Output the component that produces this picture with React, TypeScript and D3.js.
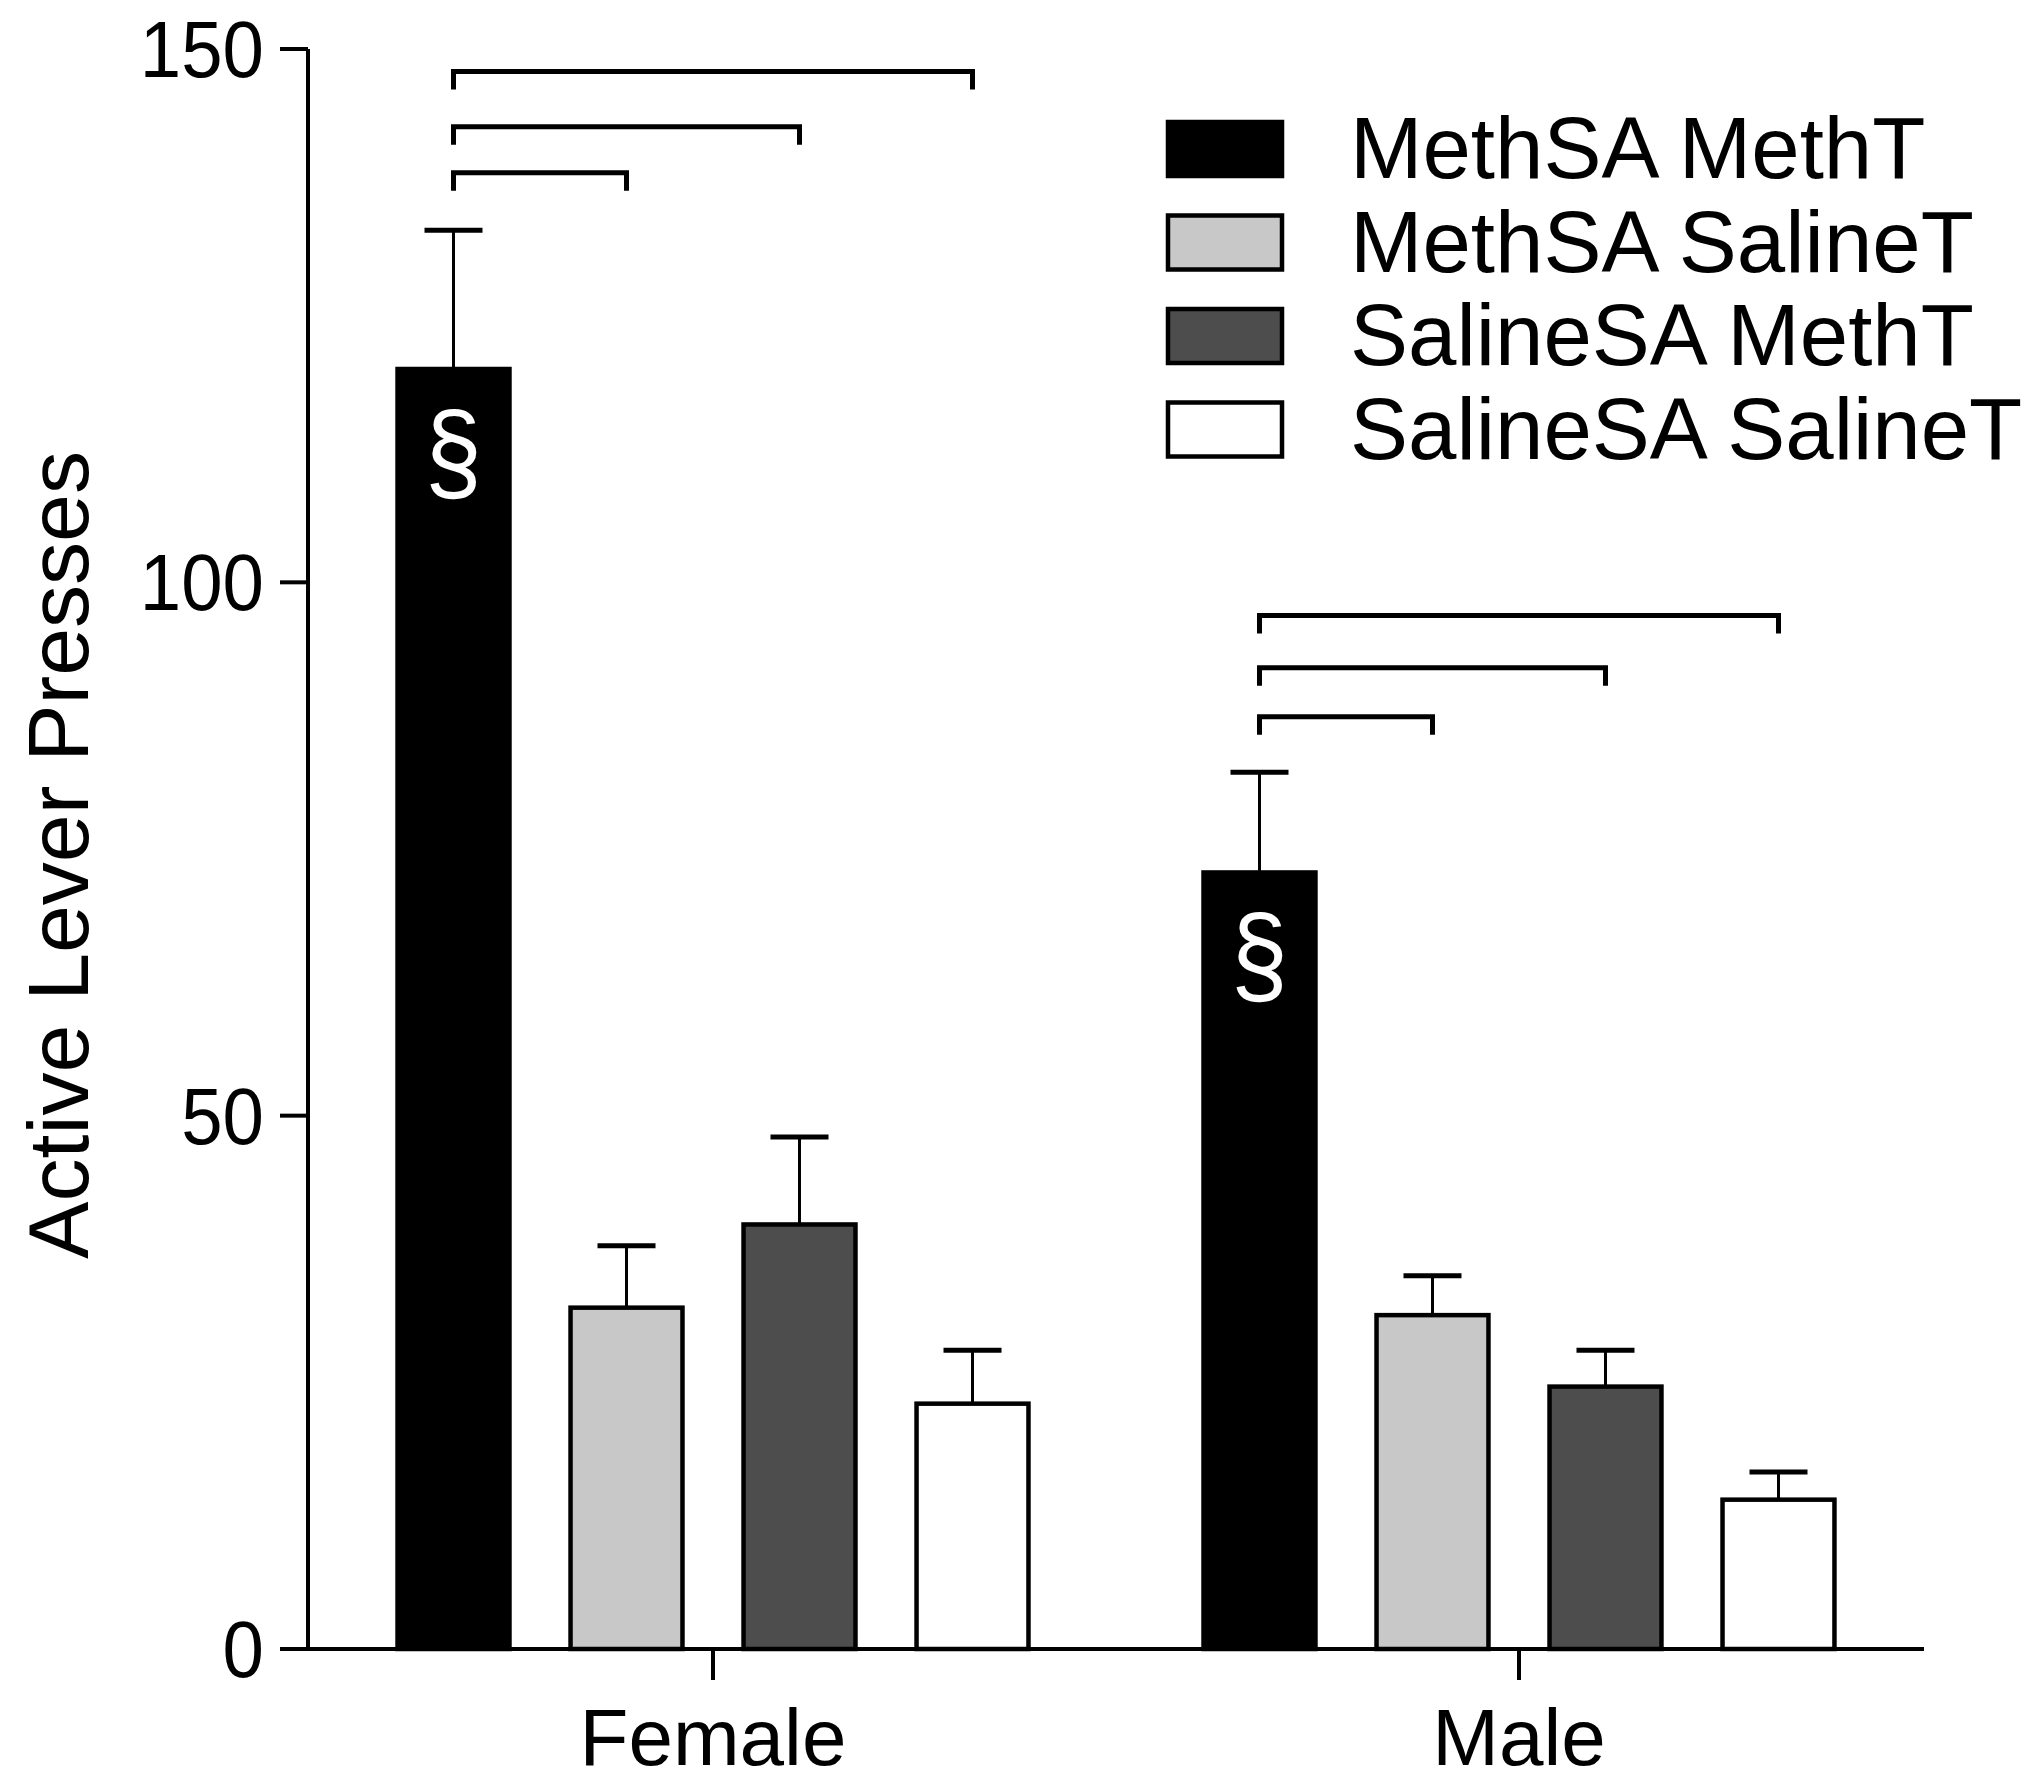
import React from "react";
import * as d3 from "d3";

const groups = ["Female", "Male"];
const series = ["MethSA MethT", "MethSA SalineT", "SalineSA MethT", "SalineSA SalineT"];
const femaleMeans = [120, 32, 39.8, 23];
const femaleSEM = [13, 5.8, 8.2, 5];
const maleMeans = [72.8, 31.3, 24.6, 14];
const maleSEM = [9.4, 3.7, 3.4, 2.6];
const yTicks = [0, 50, 100, 150];
// brackets: [from series index, to series index, height in data units]
const femaleBrackets: [number, number, number][] = [[0, 1, 138.4], [0, 2, 142.7], [0, 3, 147.9]];
const maleBrackets: [number, number, number][] = [[0, 1, 87.4], [0, 2, 92], [0, 3, 96.9]];
const sigMarks = ["§", "§"]; // on the MethSA MethT bar of each group
const fills = ["#000000", "#c8c8c8", "#4d4d4d", "#ffffff"];

const W = 2040;
const H = 1783;
const FONT = "'Liberation Sans', Arial, Helvetica, sans-serif";

export default function App() {
  const x0 = 308;
  const x1 = 1924;
  const yTop = 49;
  const yBase = 1649;

  const y = d3.scaleLinear().domain([0, 150]).range([yBase, yTop]);
  const gx = d3.scalePoint<string>().domain(groups).range([x0, x1]).padding(0.5025);
  const pi = 0.353;
  const inner = d3
    .scaleBand<string>()
    .domain(series)
    .range([-346, 346])
    .paddingInner(pi)
    .paddingOuter(pi / 2);
  const bw = inner.bandwidth();

  const data = [
    { g: groups[0], means: femaleMeans, sem: femaleSEM, brackets: femaleBrackets, mark: sigMarks[0] },
    { g: groups[1], means: maleMeans, sem: maleSEM, brackets: maleBrackets, mark: sigMarks[1] },
  ];

  const cx = (g: string, s: string) => (gx(g) as number) + (inner(s) as number) + bw / 2;

  return (
    <svg
      width={W}
      height={H}
      style={{ position: "absolute", left: 0, top: 0, background: "#fff" }}
      fontFamily={FONT}
    >
      <rect x={0} y={0} width={W} height={H} fill="#fff" />
      {/* bars */}
      {data.map((d) =>
        series.map((s, i) => {
          const c = cx(d.g, s);
          const top = y(d.means[i]);
          const errTop = y(d.means[i] + d.sem[i]);
          return (
            <g key={d.g + s}>
              <line x1={c} x2={c} y1={top} y2={errTop} stroke="#000" strokeWidth={3} />
              <line x1={c - 29} x2={c + 29} y1={errTop} y2={errTop} stroke="#000" strokeWidth={5} />
              <rect
                x={c - bw / 2}
                y={top}
                width={bw}
                height={yBase - top}
                fill={fills[i]}
                stroke="#000"
                strokeWidth={4.5}
              />
            </g>
          );
        })
      )}
      {/* significance marks */}
      {data.map((d) => {
        const c = cx(d.g, series[0]);
        const by = y(d.means[0]) + 121;
        return (
          <text
            key={"m" + d.g}
            x={c}
            y={by}
            textAnchor="middle"
            fontSize={112}
            fill="#fff"
            transform={`translate(${c},${by}) scale(0.92,1) translate(${-c},${-by})`}
          >
            {d.mark}
          </text>
        );
      })}
      {/* brackets */}
      {data.map((d) =>
        d.brackets.map(([a, b, h], k) => {
          const xa = cx(d.g, series[a]);
          const xb = cx(d.g, series[b]);
          const yy = y(h);
          return (
            <path
              key={d.g + "b" + k}
              d={`M${xa},${yy + 18}V${yy}H${xb}V${yy + 18}`}
              fill="none"
              stroke="#000"
              strokeWidth={5}
            />
          );
        })
      )}
      {/* axes */}
      <line x1={x0} x2={x0} y1={yTop} y2={yBase} stroke="#000" strokeWidth={4} />
      <line x1={280} x2={x1} y1={yBase} y2={yBase} stroke="#000" strokeWidth={4} />
      {yTicks.map((t) => (
        <g key={"t" + t}>
          <line x1={280} x2={x0} y1={y(t)} y2={y(t)} stroke="#000" strokeWidth={4} />
          <text
            x={264}
            y={y(t)}
            dy="0.35em"
            textAnchor="end"
            fontSize={80}
            fill="#000"
            transform={`translate(264,0) scale(0.93,1) translate(-264,0)`}
          >
            {t}
          </text>
        </g>
      ))}
      {groups.map((g) => (
        <g key={"g" + g}>
          <line x1={gx(g)} x2={gx(g)} y1={yBase} y2={yBase + 31} stroke="#000" strokeWidth={4} />
          <text x={gx(g)} y={1765} textAnchor="middle" fontSize={80} fill="#000">
            {g}
          </text>
        </g>
      ))}
      <text
        transform={`translate(88,855) rotate(-90)`}
        textAnchor="middle"
        fontSize={86}
        fill="#000"
      >
        Active Lever Presses
      </text>
      {/* legend */}
      {series.map((s, i) => {
        const ty = 122 + i * 93.5;
        return (
          <g key={"l" + s}>
            <rect x={1168} y={ty} width={114} height={54} fill={fills[i]} stroke="#000" strokeWidth={4.5} />
            <text x={1350} y={ty + 56} fontSize={87} fill="#000">
              {s}
            </text>
          </g>
        );
      })}
    </svg>
  );
}
